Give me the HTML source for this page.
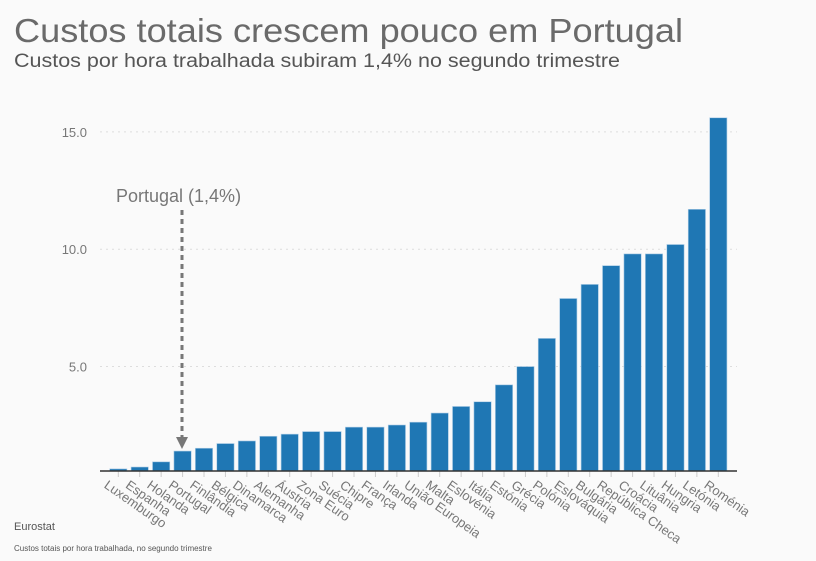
<!DOCTYPE html>
<html><head><meta charset="utf-8"><style>
body{margin:0;background:#fafafa;}
svg{display:block;font-family:"Liberation Sans",sans-serif;}
</style></head><body>
<svg id="chart" width="816" height="561" viewBox="0 0 816 561">
<rect width="816" height="561" fill="#fafafa"/>
<text x="14" y="42" font-size="33" fill="#6a6a6a" textLength="669" lengthAdjust="spacingAndGlyphs">Custos totais crescem pouco em Portugal</text>
<text x="14" y="67" font-size="19" fill="#555" textLength="606" lengthAdjust="spacingAndGlyphs">Custos por hora trabalhada subiram 1,4% no segundo trimestre</text>
<g id="grid"></g><g id="bars"></g><g id="xlabels"></g>
<line x1="100" x2="737" y1="471" y2="471" stroke="#333" stroke-width="1.5"/>
<text x="116" y="202" font-size="18" fill="#777">Portugal (1,4%)</text>
<line x1="182" x2="182" y1="210" y2="438" stroke="#777" stroke-width="3" stroke-dasharray="5,4"/>
<polygon points="176,437 188,437 182,449" fill="#777"/>
<text x="14" y="530" font-size="11" fill="#555">Eurostat</text>
<text x="14" y="551" font-size="8" fill="#555">Custos totais por hora trabalhada, no segundo trimestre</text>
</svg>
<script>
const categories=["Luxemburgo","Espanha","Holanda","Portugal","Finlândia","Bélgica","Dinamarca","Alemanha","Áustria","Zona Euro","Suécia","Chipre","França","Irlanda","União Europeia","Malta","Eslovénia","Itália","Estónia","Grécia","Polónia","Eslováquia","Bulgária","República Checa","Croácia","Lituânia","Hungria","Letónia","Roménia"];
const values=[0.64,0.72,0.94,1.4,1.52,1.72,1.83,2.03,2.12,2.23,2.23,2.42,2.42,2.51,2.63,3.02,3.3,3.5,4.22,5.0,6.2,7.9,8.5,9.3,9.8,9.8,10.2,11.7,15.6];
const yTicks=[5,10,15];
const yTickLabels=["5.0","10.0","15.0"];
const NS="http://www.w3.org/2000/svg";
const yMin=0.55, y0=471, pxPerUnit=23.47;
function y(v){return y0-(v-yMin)*pxPerUnit;}
const x0=118.3, step=(718.3-118.3)/(categories.length-1);
function x(i){return x0+i*step;}
const grid=document.getElementById('grid'),bars=document.getElementById('bars'),xl=document.getElementById('xlabels');
yTicks.forEach((t,i)=>{
 const l=document.createElementNS(NS,'line');
 l.setAttribute('x1',100);l.setAttribute('x2',737);l.setAttribute('y1',y(t));l.setAttribute('y2',y(t));
 l.setAttribute('stroke','#ddd');l.setAttribute('stroke-dasharray','2,4');
 
 
 grid.appendChild(l);
 const tx=document.createElementNS(NS,'text');
 tx.setAttribute('x',87);tx.setAttribute('y',y(t)+5);tx.setAttribute('text-anchor','end');
 tx.setAttribute('font-size','13');tx.setAttribute('fill','#777');tx.textContent=yTickLabels[i];
 
 
 grid.appendChild(tx);
});
categories.forEach((c,i)=>{
 const r=document.createElementNS(NS,'rect');
 const w=17.3;
 r.setAttribute('x',x(i)-w/2);r.setAttribute('y',y(values[i]));
 r.setAttribute('width',w);r.setAttribute('height',y0-y(values[i]));
 r.setAttribute('fill','#1f77b4');r.setAttribute('stroke','#aecde6');r.setAttribute('stroke-width','0.6');
 
 
 bars.appendChild(r);
 const tk=document.createElementNS(NS,'line');
 tk.setAttribute('x1',x(i));tk.setAttribute('x2',x(i));tk.setAttribute('y1',471);tk.setAttribute('y2',477);
 tk.setAttribute('stroke','#ccc');
 
 
 xl.appendChild(tk);
 const t=document.createElementNS(NS,'text');
 t.setAttribute('transform','translate('+(x(i)-15)+',487) rotate(35)');
 t.setAttribute('font-size','13');t.setAttribute('fill','#777');t.textContent=c;
 
 
 xl.appendChild(t);
});
</script>
</body></html>
